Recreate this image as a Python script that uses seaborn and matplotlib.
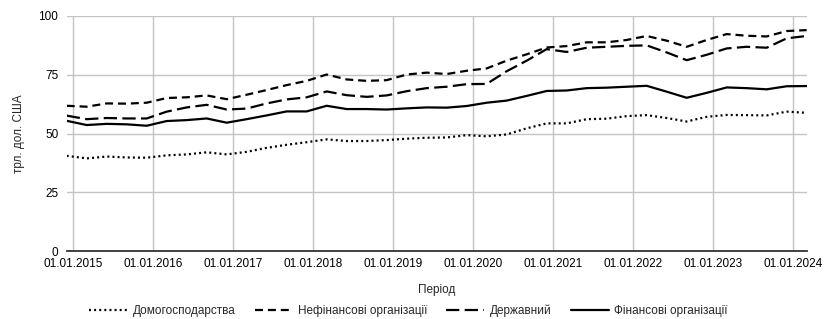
import matplotlib
matplotlib.use("Agg")
import matplotlib.pyplot as plt
import seaborn as sns
import pandas as pd

# months counted from 12.2014, one point per quarter end
months = list(range(0, 112, 3))

households = [40.5, 39.4, 40.2, 39.8, 39.7, 40.7, 41.1, 42.0, 41.1, 42.2,
              43.9, 45.2, 46.3, 47.5, 46.8, 46.8, 47.2, 47.8, 48.2, 48.3,
              49.3, 48.8, 49.6, 52.2, 54.3, 54.3, 56.1, 56.3, 57.4, 57.8,
              56.6, 55.1, 57.1, 57.9, 57.8, 57.7, 59.3, 58.8]
nonfin = [61.8, 61.4, 62.8, 62.7, 63.1, 65.1, 65.4, 66.2, 64.6, 66.5,
          68.5, 70.6, 72.4, 75.1, 73.0, 72.4, 72.7, 75.1, 75.9, 75.3,
          76.7, 77.7, 81.0, 83.7, 86.6, 87.2, 88.8, 88.8, 89.8, 91.5,
          89.5, 86.9, 89.8, 92.3, 91.6, 91.3, 93.6, 94.0]
government = [57.6, 56.1, 56.6, 56.4, 56.4, 59.3, 61.1, 62.2, 60.2, 60.6,
              62.8, 64.5, 65.4, 67.9, 66.3, 65.6, 66.2, 68.0, 69.3, 69.9,
              71.0, 71.1, 76.5, 81.0, 85.9, 84.7, 86.5, 86.9, 87.3, 87.5,
              84.5, 81.2, 83.5, 86.2, 86.9, 86.5, 90.5, 91.5]
financial = [55.4, 53.6, 54.1, 53.9, 53.3, 55.3, 55.7, 56.4, 54.6, 56.1,
             57.7, 59.4, 59.4, 61.8, 60.4, 60.4, 60.2, 60.7, 61.1, 61.0,
             61.7, 63.1, 64.0, 66.0, 68.1, 68.3, 69.3, 69.5, 69.9, 70.3,
             67.8, 65.2, 67.3, 69.6, 69.3, 68.8, 70.1, 70.2]

sectors = ["Домогосподарства", "Нефінансові організації", "Державний",
           "Фінансові організації"]
years = list(range(2015, 2025))
tick_labels = ["01.01.%d" % y for y in years]
tick_pos = [1 + 12 * i for i in range(len(years))]

df = pd.concat([
    pd.DataFrame({"m": months, "v": vals, "sector": name})
    for name, vals in zip(sectors, [households, nonfin, government, financial])
])

sns.set_style("white")
plt.rcParams["font.family"] = ["Liberation Sans", "DejaVu Sans"]

fig = plt.figure(figsize=(8.26, 3.19), dpi=100)
ax = fig.add_axes([66.7 / 826, 1 - 251 / 319, 740 / 826, 235 / 319])

lw = 1.6
dashes = {
    "Домогосподарства": (0.9, 1.4),
    "Нефінансові організації": (3.6, 2.2),
    "Державний": (6.0, 2.4),
    "Фінансові організації": "",
}
sns.lineplot(data=df, x="m", y="v", hue="sector", style="sector",
             palette=["black"] * 4, dashes=dashes, linewidth=lw, ax=ax,
             legend=True)

ax.set_xlim(0, 111)
ax.set_ylim(0, 100)
ax.set_yticks([0, 25, 50, 75, 100])
ax.set_xticks(tick_pos)
ax.set_xticklabels(tick_labels)
ax.grid(True, color="#c4c4c4", linewidth=1.0)
for s in ["left", "right", "top"]:
    ax.spines[s].set_visible(False)
ax.spines["bottom"].set_color("#333333")
ax.spines["bottom"].set_linewidth(1.3)
ax.tick_params(axis="both", length=0, labelsize=8.5, colors="black")
ax.tick_params(axis="y", pad=6)
ax.tick_params(axis="x", pad=5)
ax.set_ylabel("трл. дол. США", fontsize=8.5, labelpad=10)
ax.set_xlabel("Період", fontsize=8.5, labelpad=10)

handles, labels = ax.get_legend_handles_labels()
ax.legend(handles, labels, loc="center", bbox_to_anchor=(0.462, -0.255),
          ncol=4, frameon=False, fontsize=8.5, handlelength=3.2,
          columnspacing=1.6, handletextpad=0.5)

fig.savefig("out.png", dpi=100)
